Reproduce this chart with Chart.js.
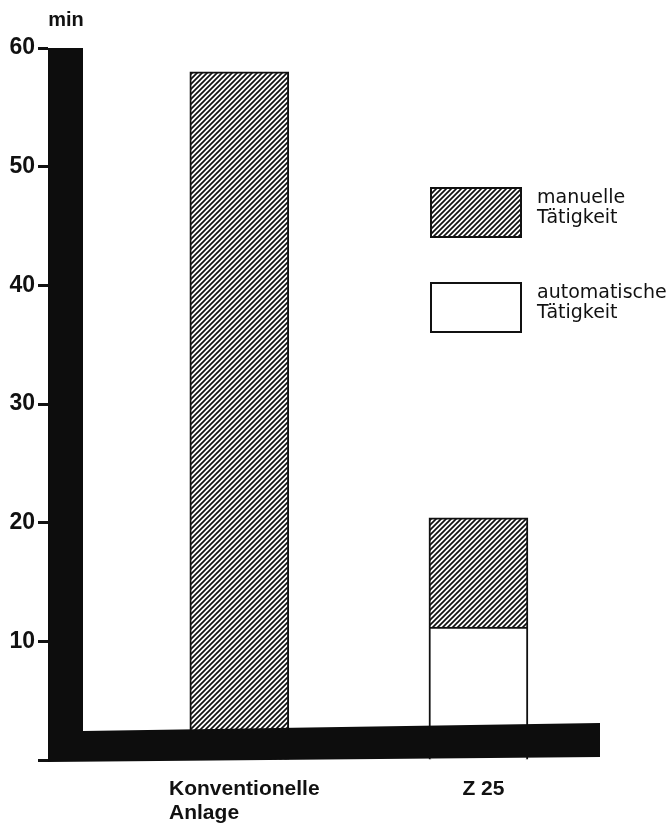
<!DOCTYPE html>
<html>
<head>
<meta charset="utf-8">
<script src="https://cdn.jsdelivr.net/npm/chart.js@4.4.1/dist/chart.umd.min.js"></script>
<style>
  html, body { margin: 0; padding: 0; background: #fff; }
  #wrap { width: 672px; height: 828px; }
</style>
</head>
<body>
<div id="wrap"><canvas id="myChart" width="672" height="828"></canvas></div>
<script>
// data (minutes)
const categories = [['Konventionelle', 'Anlage'], ['Z 25']];
const automatic = [null, 11.2];
const manual = [58, 9.2];
const yTicks = [0, 10, 20, 30, 40, 50, 60];
const seriesNames = ['automatische Tätigkeit', 'manuelle Tätigkeit'];

const ctx = document.getElementById('myChart').getContext('2d');

// diagonal hatch like the print
function hatch() {
    const c = document.createElement('canvas');
    c.width = 5; c.height = 5;
    const g = c.getContext('2d');
    g.fillStyle = '#fff';
    g.fillRect(0, 0, 5, 5);
    g.strokeStyle = '#111';
    g.lineWidth = 1.7;
    g.beginPath();
    g.moveTo(0, 5); g.lineTo(5, 0);
    g.moveTo(-1, 1); g.lineTo(1, -1);
    g.moveTo(4, 6); g.lineTo(6, 4);
    g.stroke();
    return ctx.createPattern(c, 'repeat');
}
const hatchFill = hatch();

const toPoints = arr => arr.map((v, i) => ({ x: i + 1, y: v }));

// thick black L-shaped axis, labels, legend
const decor = {
    id: 'decor',
    afterDatasetsDraw(chart) {
        const { ctx, chartArea: a, scales: { x, y } } = chart;
        const y0 = y.getPixelForValue(0);
        ctx.save();
        ctx.fillStyle = '#0d0d0d';
        ctx.beginPath();
        ctx.moveTo(a.left, a.top);
        ctx.lineTo(a.left + 35, a.top);
        ctx.lineTo(a.left + 35, y0 - 29);
        ctx.lineTo(a.right + 2, y0 - 37);
        ctx.lineTo(a.right + 2, y0 - 3);
        ctx.lineTo(a.left, y0 + 2);
        ctx.closePath();
        ctx.fill();

        ctx.fillStyle = '#111';
        ctx.font = 'bold 20px "Liberation Sans"';
        ctx.textAlign = 'center';
        ctx.textBaseline = 'alphabetic';
        ctx.fillText('min', a.left + 18, a.top - 22);

        // category labels, lines left aligned
        ctx.font = 'bold 21px "Liberation Sans"';
        ctx.textAlign = 'left';
        categories.forEach((lines, i) => {
            const cx = x.getPixelForValue(i + 1);
            const w = Math.max(...lines.map(l => ctx.measureText(l).width));
            lines.forEach((l, k) => ctx.fillText(l, cx - w / 2 + 5, y0 + 35 + k * 24));
        });

        // legend
        const ds = chart.data.datasets;
        const boxes = [{ ds: ds[1], top: 188 }, { ds: ds[0], top: 283 }];
        ctx.font = '19px "DejaVu Sans"';
        boxes.forEach(b => {
            ctx.fillStyle = b.ds.backgroundColor;
            ctx.fillRect(431, b.top, 90, 49);
            ctx.lineWidth = 2;
            ctx.strokeStyle = '#111';
            ctx.strokeRect(431, b.top, 90, 49);
            ctx.fillStyle = '#111';
            b.ds.label.split(' ').forEach((l, k) => ctx.fillText(l, 537, b.top + 15 + k * 20));
        });
        ctx.restore();
    }
};

new Chart(ctx, {
    type: 'bar',
    data: {
        datasets: [{
            label: seriesNames[0],
            data: toPoints(automatic),
            backgroundColor: '#fff',
            borderColor: '#111',
            borderWidth: 2
        }, {
            label: seriesNames[1],
            data: toPoints(manual),
            backgroundColor: hatchFill,
            borderColor: '#111',
            borderWidth: 2
        }]
    },
    options: {
        responsive: false,
        animation: false,
        barThickness: 99,
        layout: { padding: { left: 0, right: 74, top: 48, bottom: 68 } },
        plugins: { legend: { display: false }, tooltip: { enabled: false } },
        scales: {
            x: {
                type: 'linear',
                min: 0.2,
                max: 2.5,
                offset: false,
                stacked: true,
                display: false
            },
            y: {
                min: 0,
                max: 60,
                stacked: true,
                afterFit: s => { s.width = 48; },
                afterBuildTicks: s => { s.ticks = yTicks.map(v => ({ value: v })); },
                ticks: {
                    callback: v => v === 0 ? '' : v,
                    color: '#111',
                    padding: 3,
                    font: { family: 'Liberation Sans', weight: 'bold', size: 23 }
                },
                grid: {
                    drawOnChartArea: false,
                    tickLength: 10,
                    tickColor: '#111',
                    tickWidth: 3
                },
                border: { display: false }
            }
        }
    },
    plugins: [decor]
});
</script>
</body>
</html>
